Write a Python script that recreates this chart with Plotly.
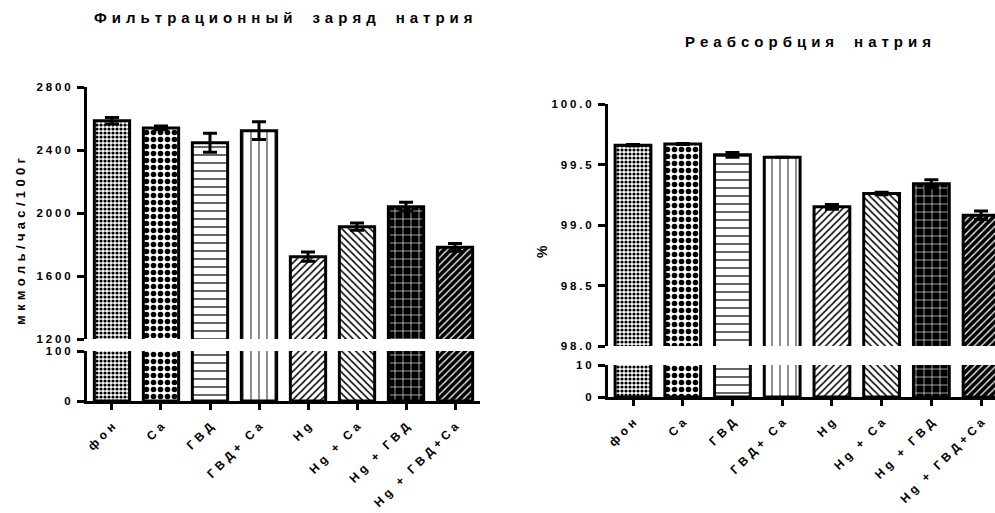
import plotly.graph_objects as go

# Groups (shared by both panels)
categories = ["фон", "Ca", "ГВД", "ГВД+ Ca", "Hg", "Hg + Ca", "Hg + ГВД", "Hg + ГВД+Ca"]

# Filtered sodium load, мкмоль/час/100г (mean and SEM)
filtration_mean = [2586, 2540, 2446, 2523, 1723, 1913, 2040, 1782]
filtration_sem = [21, 12, 60, 57, 30, 23, 28, 25]

# Sodium reabsorption, % (mean and SEM)
reabsorption_mean = [99.66, 99.67, 99.58, 99.56, 99.15, 99.26, 99.34, 99.08]
reabsorption_sem = [0.005, 0.004, 0.02, 0.0, 0.02, 0.01, 0.035, 0.035]

# Tick values for the broken y-axes
filtration_upper_ticks = [1200, 1600, 2000, 2400, 2800]
filtration_lower_ticks = [0, 100]
reabsorption_upper_ticks = [98.0, 98.5, 99.0, 99.5, 100.0]
reabsorption_lower_ticks = [0, 10]

W, H = 995, 513
FONT = "Liberation Sans, Arial, sans-serif"


def spaced(text, gap="\u2005", word_gap="\u2003"):
    """Tracked-out lettering: a small gap between letters, a wide one between words."""
    words = text.split(" ")
    return word_gap.join(gap.join(w) for w in words if w)


def px_x(p):
    return p / W


def px_y(p):
    return 1 - p / H


# Per-bar fill patterns
pattern = dict(
    shape=[".", ".", "-", "|", "/", "\\", "+", "/"],
    fgcolor=["black", "black", "black", "#444", "black", "black", "white", "white"],
    bgcolor=["white", "white", "white", "white", "white", "white", "black", "black"],
    size=[4, 7, 8, 8, 5, 5, 8, 5],
    solidity=[0.5, 0.5, 0.15, 0.15, 0.3, 0.3, 0.15, 0.25],
    fillmode="replace",
)

xs = list(range(len(categories)))
bar_width = 0.72


def bar_trace(values, errors, xaxis, yaxis):
    kw = dict(
        x=xs, y=values, width=bar_width, xaxis=xaxis, yaxis=yaxis,
        marker=dict(color="white", line=dict(color="black", width=3), pattern=pattern),
        showlegend=False, hoverinfo="skip",
    )
    if errors is not None:
        kw["error_y"] = dict(type="data", array=errors, visible=True,
                             color="black", thickness=3, width=7)
    return go.Bar(**kw)


fig = go.Figure()
# Left panel: lower (x, y) and upper (x2, y2) segments
fig.add_trace(bar_trace(filtration_mean, None, "x", "y"))
fig.add_trace(bar_trace(filtration_mean, filtration_sem, "x2", "y2"))
# Right panel: lower (x3, y3) and upper (x4, y4) segments
fig.add_trace(bar_trace(reabsorption_mean, None, "x3", "y3"))
fig.add_trace(bar_trace(reabsorption_mean, reabsorption_sem, "x4", "y4"))

tick_font = dict(family=FONT, size=11.5, color="black", weight="bold")
label_font = dict(family=FONT, size=12, color="black", weight="bold")

y_common = dict(showline=True, linecolor="black", linewidth=3, ticks="outside",
                ticklen=7, tickwidth=3, tickcolor="black", showgrid=False,
                zeroline=False, tickfont=tick_font, ticklabelstandoff=4,
                automargin=False, fixedrange=True)
x_lower = dict(showline=True, linecolor="black", linewidth=3, ticks="outside",
               ticklen=6, tickwidth=3, tickcolor="black", showgrid=False,
               zeroline=False, tickvals=xs,
               ticktext=[spaced(c, "\u2004", "\u2002\u2004") for c in categories],
               tickangle=-45, tickfont=label_font, ticklabelstandoff=5,
               automargin=False, fixedrange=True)
x_hidden = dict(showline=False, ticks="", showticklabels=False, showgrid=False,
                zeroline=False, automargin=False, fixedrange=True)

left_dom = [px_x(87), px_x(480)]
right_dom = [px_x(608), 1.0]
left_range = [-0.51, 7.51]
right_range = [-0.503, 7.28]

fig.update_layout(
    width=W, height=H, autosize=False,
    margin=dict(l=0, r=0, t=0, b=0, pad=0, autoexpand=False),
    paper_bgcolor="white", plot_bgcolor="white",
    barmode="overlay",
    font=dict(family=FONT, color="black"),
    xaxis=dict(domain=left_dom, range=left_range, anchor="y", **x_lower),
    yaxis=dict(domain=[px_y(401), px_y(351)], range=[0, 100], anchor="x",
               tickvals=filtration_lower_ticks,
               ticktext=[spaced(str(v)) for v in filtration_lower_ticks], **y_common),
    xaxis2=dict(domain=left_dom, range=left_range, anchor="y2", matches="x", **x_hidden),
    yaxis2=dict(domain=[px_y(339), px_y(87)], range=[1200, 2800], anchor="x2",
                tickvals=filtration_upper_ticks,
                ticktext=[spaced(str(v)) for v in filtration_upper_ticks], **y_common),
    xaxis3=dict(domain=right_dom, range=right_range, anchor="y3", **x_lower),
    yaxis3=dict(domain=[px_y(397), px_y(365)], range=[0, 10], anchor="x3",
                tickvals=reabsorption_lower_ticks,
                ticktext=[spaced(str(v)) for v in reabsorption_lower_ticks], **y_common),
    xaxis4=dict(domain=right_dom, range=right_range, anchor="y4", matches="x3", **x_hidden),
    yaxis4=dict(domain=[px_y(346), px_y(104)], range=[98, 100], anchor="x4",
                tickvals=reabsorption_upper_ticks,
                ticktext=[spaced(f"{v:.1f}") for v in reabsorption_upper_ticks], **y_common),
)

title_font = dict(family=FONT, size=15, color="black", weight="bold")
axis_title_font = dict(family=FONT, size=13, color="black", weight="bold")
fig.add_annotation(text=spaced("Фильтрационный заряд натрия", "\u2004", "\u2003\u2004"),
                   x=px_x(283), y=px_y(17), xref="paper", yref="paper",
                   showarrow=False, font=title_font, xanchor="center", yanchor="middle")
fig.add_annotation(text=spaced("Реабсорбция натрия", "\u2004", "\u2003\u2004"),
                   x=px_x(808), y=px_y(41), xref="paper", yref="paper",
                   showarrow=False, font=title_font, xanchor="center", yanchor="middle")
fig.add_annotation(text=spaced("мкмоль/час/100г", "\u2004"), textangle=-90,
                   x=px_x(20), y=px_y(241), xref="paper", yref="paper",
                   showarrow=False, font=axis_title_font, xanchor="center", yanchor="middle")
fig.add_annotation(text="%", textangle=-90,
                   x=px_x(542), y=px_y(252), xref="paper", yref="paper",
                   showarrow=False, font=dict(family=FONT, size=14, color="black", weight="bold"),
                   xanchor="center", yanchor="middle")

fig.write_html("out.html")
